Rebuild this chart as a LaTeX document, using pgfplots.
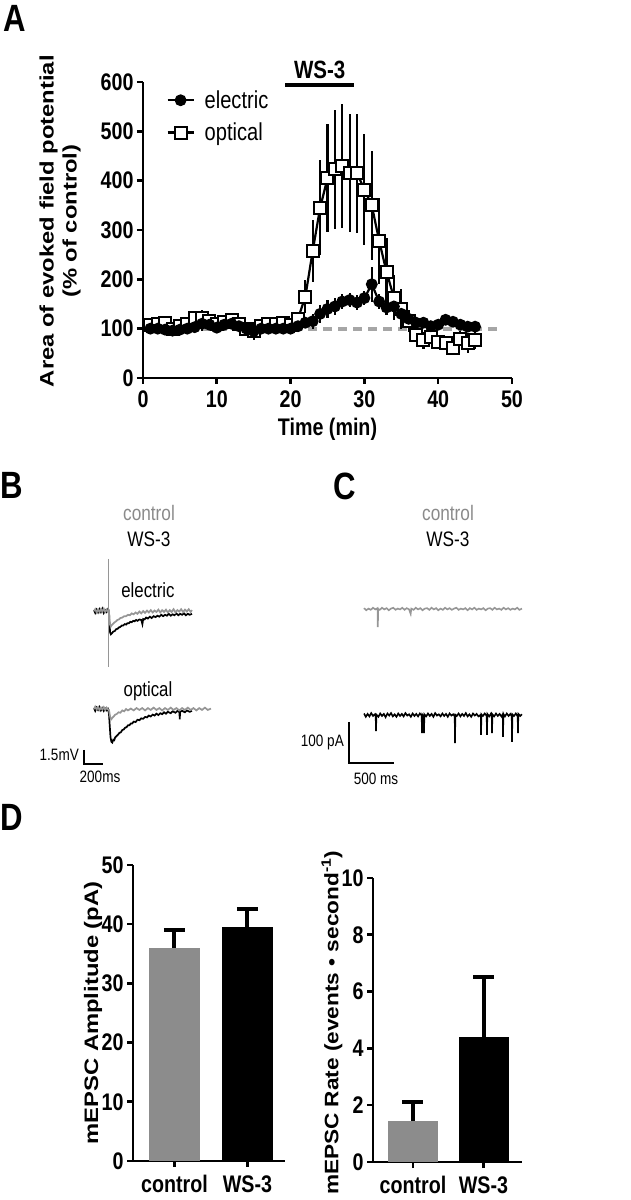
\documentclass[border=0pt]{standalone}
\usepackage{fontspec}
\setmainfont{Liberation Sans}
\newfontfamily\stretchfont[FakeStretch=1.22]{Liberation Sans}
\newfontfamily\stretchfontb[FakeStretch=1.16]{Liberation Sans}
\newfontfamily\hfont[FakeStretch=0.82]{Liberation Sans}
\usepackage{pgfplots}
\usepackage{pgfplotstable}
\pgfplotsset{compat=1.18}
\definecolor{bargray}{HTML}{8C8C8C}
\definecolor{tracegray}{HTML}{969696}
\definecolor{textgray}{HTML}{8A8A8A}
\definecolor{dashgray}{HTML}{A6A6A6}

\pgfplotstableread{
t v e
1 108 6
2 110 6
3 112 8
4 100 8
5 105 8
6 110 8
7 122 10
8 122 15
9 115 10
10 110 10
11 113 8
12 117 8
13 110 10
14 100 10
15 95 18
16 105 10
17 110 8
18 110 8
19 112 8
20 108 8
21 120 12
22 165 33
23 258 63
24 345 96
25 405 110
26 423 121
27 430 125
28 416 120
29 415 121
30 382 113
31 350 111
32 278 87
33 215 68
34 163 45
35 140 40
36 115 22
37 88 15
38 76 18
39 84 15
40 73 15
41 70 12
42 60 12
43 80 15
44 71 20
45 76 18
}\optical

\pgfplotstableread{
t v e
1 100 5
2 100 5
3 98 5
4 96 6
5 98 6
6 100 6
7 103 8
8 110 15
9 108 8
10 102 6
11 108 8
12 110 10
13 105 10
14 100 10
15 95 15
16 100 10
17 100 6
18 100 6
19 100 6
20 100 6
21 105 8
22 112 10
23 115 15
24 130 18
25 140 18
26 145 18
27 155 15
28 158 15
29 153 15
30 162 15
31 190 35
32 155 15
33 143 15
34 145 20
35 130 18
36 120 15
37 112 10
38 112 10
39 105 8
40 108 8
41 118 8
42 114 8
43 108 8
44 104 8
45 104 8
}\electric

\pgfplotsset{
  panel/.style={
    scale only axis, clip=false,
    axis lines*=left,
    axis line style={line width=2.6pt},
    tick style={line width=2.6pt, black},
    major tick length=6pt,
    tick align=outside,
    /pgf/number format/assume math mode=true,
    ticklabel style={font=\hfont\bfseries\fontsize{24}{24}\selectfont},
    xticklabel style={yshift=-5pt},
    xlabel style={font=\hfont\bfseries\fontsize{24}{24}\selectfont},
    ylabel style={font=\stretchfont\bfseries\fontsize{19.5}{23}\selectfont, align=center},
  },
  trace/.style={hide axis, scale only axis, clip=false},
  ebar/.style={error bars/.cd, y dir=plus, y explicit, error mark=|,
    error bar style={line width=4pt, draw=black, solid},
    error mark options={line width=4pt, mark size=10.5pt, draw=black}},
}

\begin{document}
\begin{tikzpicture}[x=1pt,y=1pt]
\useasboundingbox (0,0) rectangle (630,1200);
% panel letters
\node[font=\hfont\bfseries\fontsize{38}{38}\selectfont] at (15,1182) {A};
\node[font=\hfont\bfseries\fontsize{38}{38}\selectfont] at (12,715) {B};
\node[font=\hfont\bfseries\fontsize{38}{38}\selectfont] at (345,714) {C};
\node[font=\hfont\bfseries\fontsize{38}{38}\selectfont] at (12,383) {D};

% ---------------- Panel A ----------------
\begin{axis}[panel, at={(143pt,822pt)}, anchor=south west, width=369pt, height=296pt,
  xmin=0, xmax=50, ymin=0, ymax=600,
  xtick={0,10,20,30,40,50}, ytick={0,100,200,300,400,500,600},
  xticklabel style={yshift=2pt},
  xlabel={Time (min)}, ylabel={Area of evoked field potential\\(\% of control)},
  xlabel style={at={(axis description cs:0.5,-0.172)}, anchor=center},
  ylabel style={at={(axis description cs:-0.225,0.53)}, anchor=center},
  reverse legend, legend cell align=left,
  legend style={at={(0.055,0.985)}, anchor=north west, draw=none, fill=none,
    font=\hfont\fontsize{24.5}{24.5}\selectfont, row sep=9pt, column sep=8pt},
  legend image code/.code={\draw[mark repeat=2,mark phase=2] plot coordinates {(0pt,0pt) (13pt,0pt) (26pt,0pt)};}]
\addplot[forget plot, dashgray, line width=4pt, dash pattern=on 9pt off 6pt] coordinates {(0,100) (48,100)};
\addplot[black, line width=2.2pt, mark=square*, mark size=6pt, mark options={fill=white, line width=2pt, solid},
  error bars/.cd, y dir=both, y explicit, error mark=none, error bar style={line width=2.2pt, black}]
  table[x=t, y=v, y error=e] {\optical};
\addlegendentry{optical}
\addplot[black, line width=2.2pt, mark=*, mark size=4.8pt, mark options={fill=black, solid},
  error bars/.cd, y dir=both, y explicit, error mark=none, error bar style={line width=2.2pt, black}]
  table[x=t, y=v, y error=e] {\electric};
\addlegendentry{electric}
\draw[line width=3.5pt] (axis cs:19.3,594) -- (axis cs:28.6,594);
\node[font=\hfont\bfseries\fontsize{25}{25}\selectfont] at (axis cs:23.95,624) {WS-3};
\end{axis}

% ---------------- Panel B (traces) ----------------
\begin{axis}[trace, at={(50pt,410pt)}, anchor=south west, width=170pt, height=245pt,
  xmin=-621, xmax=1169, ymin=-19.08, ymax=7.18]
% electric, WS-3 (black)
\addplot[black, line width=1.7pt] coordinates {
(-158,0.2)(-145,-0.1)(-130,0.25)(-115,-0.05)(-100,0.3)(-85,0.0)(-70,0.35)(-55,-0.1)(-40,0.2)(-25,0.0)(-10,0.3)(0,0.1)
(5,-1.2)(12,-2.2)(20,-2.4)(30,-2.3)(45,-2.1)(60,-2.05)(75,-1.85)(90,-1.8)(105,-1.65)(120,-1.6)(135,-1.45)(150,-1.45)
(165,-1.3)(180,-1.35)(195,-1.2)(210,-1.2)(225,-1.05)(240,-1.1)(255,-0.95)(270,-1.0)(285,-0.85)(300,-0.95)(320,-0.8)
(340,-0.85)(352,-1.3)(360,-0.75)(375,-0.8)(390,-0.6)(410,-0.7)(430,-0.5)(450,-0.65)(470,-0.45)(490,-0.55)(510,-0.4)
(530,-0.5)(550,-0.3)(570,-0.45)(590,-0.3)(610,-0.4)(630,-0.2)(650,-0.4)(670,-0.25)(690,-0.35)(710,-0.15)(730,-0.35)
(750,-0.2)(770,-0.3)(790,-0.15)(810,-0.35)(830,-0.2)(850,-0.3)(874,-0.2)};
% electric, control (gray)
\addplot[tracegray, line width=1.7pt] coordinates {
(-158,0.1)(-145,0.3)(-130,-0.05)(-115,0.25)(-100,0.0)(-85,0.3)(-70,0.05)(-55,0.35)(-40,0.0)(-25,0.25)(-10,0.05)(0,0.1)
(5,-0.9)(12,-1.4)(20,-1.55)(30,-1.4)(45,-1.25)(60,-1.1)(75,-1.0)(90,-0.85)(105,-0.8)(120,-0.65)(140,-0.6)(160,-0.45)
(180,-0.45)(200,-0.3)(220,-0.35)(240,-0.15)(260,-0.25)(280,-0.05)(300,-0.2)(320,0.05)(340,-0.15)(360,0.1)(380,-0.1)
(400,0.15)(420,-0.05)(440,0.2)(460,-0.05)(480,0.15)(500,0.0)(520,0.25)(540,-0.05)(560,0.2)(580,0.0)(600,0.25)
(620,-0.05)(640,0.2)(660,0.0)(680,0.3)(700,-0.05)(720,0.2)(740,0.05)(760,0.3)(780,0.0)(800,0.25)(820,0.05)
(840,0.3)(860,0.0)(874,0.2)};
% stimulus artifact
\addplot[tracegray, line width=1pt] coordinates {(0,5.7)(0,-5.9)};
% optical, WS-3 (black)
\addplot[black, line width=1.7pt] coordinates {
(-158,-10.3)(-145,-10.6)(-130,-10.25)(-115,-10.5)(-100,-10.2)(-85,-10.55)(-70,-10.3)(-55,-10.6)(-40,-10.35)(-25,-10.55)
(-10,-10.4)(0,-10.9)(8,-12.2)(16,-13.4)(25,-13.9)(35,-14.0)(45,-13.7)(55,-13.75)(65,-13.45)(80,-13.3)(95,-13.15)
(110,-12.95)(125,-12.9)(140,-12.65)(155,-12.6)(170,-12.4)(185,-12.35)(200,-12.15)(215,-12.15)(230,-11.95)(245,-11.95)
(260,-11.75)(280,-11.8)(300,-11.55)(320,-11.6)(340,-11.4)(360,-11.45)(380,-11.25)(400,-11.3)(420,-11.1)(440,-11.2)
(460,-11.0)(480,-11.1)(500,-10.9)(520,-11.05)(540,-10.85)(560,-10.95)(580,-10.75)(600,-10.9)(620,-10.7)(650,-10.85)
(670,-10.65)(700,-10.8)(720,-10.6)(742,-10.75)(745,-11.5)(749,-10.7)(770,-10.6)(800,-10.75)(820,-10.55)(850,-10.7)(874,-10.6)};
% optical, control (gray)
\addplot[tracegray, line width=1.7pt] coordinates {
(-158,-10.4)(-145,-10.15)(-130,-10.45)(-115,-10.2)(-100,-10.5)(-85,-10.25)(-70,-10.45)(-55,-10.2)(-40,-10.5)(-25,-10.25)
(-10,-10.45)(0,-10.5)(8,-11.0)(16,-11.4)(25,-11.5)(35,-11.35)(50,-11.2)(65,-11.0)(80,-10.95)(100,-10.75)(120,-10.8)
(140,-10.55)(160,-10.65)(180,-10.4)(200,-10.55)(230,-10.35)(260,-10.55)(290,-10.3)(320,-10.5)(350,-10.3)(380,-10.55)
(410,-10.3)(440,-10.5)(470,-10.25)(500,-10.5)(530,-10.3)(560,-10.55)(590,-10.3)(620,-10.5)(650,-10.25)(680,-10.5)
(710,-10.3)(740,-10.55)(770,-10.3)(800,-10.5)(830,-10.25)(860,-10.5)(890,-10.3)(920,-10.55)(950,-10.3)(980,-10.5)
(1010,-10.25)(1040,-10.5)(1074,-10.35)};
% scale bar: 200 ms, 1.5 mV
\addplot[black, line width=2pt] coordinates {(-263,-14.79)(-263,-16.29)(-63,-16.29)};
\end{axis}

% ---------------- Panel C (traces) ----------------
\begin{axis}[trace, at={(300pt,410pt)}, anchor=south west, width=230pt, height=200pt,
  xmin=-710.4, xmax=1842.6, ymin=-441.64, ymax=46.36]
\addplot[tracegray, line width=1.6pt] coordinates {
(0,2)(25,-3)(50,1)(75,-2)(100,3)(125,-1)(150,2)(153,-44)(158,0)(175,-2)(200,3)(225,-1)(250,2)(275,-3)(300,1)(325,3)
(350,-2)(375,1)(400,-1)(425,3)(450,-2)(475,2)(500,-1)(518,-12)(525,1)(550,-2)(575,3)(600,-1)(625,2)(650,-3)(675,1)
(700,2)(725,-2)(750,3)(775,-1)(800,2)(825,-3)(850,1)(875,-2)(900,3)(925,-1)(950,2)(975,-2)(1000,1)(1025,3)(1050,-2)
(1075,1)(1100,-1)(1125,2)(1150,-3)(1175,2)(1200,-1)(1225,3)(1250,-2)(1275,1)(1300,-1)(1325,2)(1350,-3)(1375,1)
(1400,2)(1425,-2)(1450,3)(1475,-1)(1500,1)(1525,-2)(1550,3)(1575,-1)(1600,2)(1625,-2)(1650,1)(1675,-1)(1700,3)
(1725,-2)(1754,1)};
\addplot[black, line width=1.6pt] coordinates {
(0,-255)(20,-263)(40,-256)(60,-262)(80,-254)(100,-261)(120,-257)(130,-262)(133,-298)(138,-258)(160,-263)(180,-255)
(200,-261)(220,-256)(240,-264)(260,-255)(280,-260)(300,-254)(320,-262)(340,-257)(360,-263)(380,-255)(400,-261)
(420,-256)(440,-262)(460,-254)(480,-260)(500,-257)(520,-263)(540,-255)(560,-261)(580,-256)(600,-262)(620,-255)
(640,-260)(644,-303)(648,-258)(662,-262)(666,-303)(670,-257)(690,-262)(710,-255)(730,-261)(750,-256)(770,-263)
(790,-254)(810,-260)(830,-257)(850,-262)(870,-255)(890,-261)(910,-256)(930,-263)(950,-255)(970,-260)(990,-257)
(1007,-262)(1010,-327)(1014,-258)(1030,-261)(1050,-255)(1070,-262)(1090,-256)(1110,-261)(1130,-254)(1150,-262)
(1170,-257)(1190,-263)(1210,-255)(1230,-260)(1250,-256)(1270,-262)(1296,-258)(1299,-307)(1303,-257)(1320,-261)
(1340,-255)(1362,-261)(1365,-307)(1369,-256)(1390,-262)(1410,-255)(1418,-260)(1421,-303)(1425,-257)(1445,-262)
(1465,-255)(1485,-261)(1505,-256)(1525,-262)(1540,-257)(1543,-312)(1547,-256)(1565,-262)(1585,-255)(1605,-261)
(1625,-256)(1640,-262)(1643,-324)(1647,-257)(1665,-261)(1685,-255)(1706,-262)(1709,-303)(1713,-256)(1735,-261)(1754,-257)};
% scale bar: 500 ms, 100 pA
\addplot[black, line width=2pt] coordinates {(-166.5,-275.7)(-166.5,-375.8)(333.5,-375.8)};
\end{axis}

% trace annotations
\node[textgray, font=\hfont\fontsize{21}{21}\selectfont] at (149,687) {control};
\node[font=\hfont\fontsize{21}{21}\selectfont] at (149,661) {WS-3};
\node[font=\hfont\fontsize{20.5}{20.5}\selectfont] at (148,610) {electric};
\node[font=\hfont\fontsize{20.5}{20.5}\selectfont] at (148,509) {optical};
\node[font=\hfont\fontsize{16.5}{16.5}\selectfont, anchor=east, inner sep=1pt] at (80,445) {1.5mV};
\node[font=\hfont\fontsize{16.5}{16.5}\selectfont] at (100,423) {200ms};
\node[textgray, font=\hfont\fontsize{21}{21}\selectfont] at (448,687) {control};
\node[font=\hfont\fontsize{21}{21}\selectfont] at (448,661) {WS-3};
\node[font=\hfont\fontsize{16.5}{16.5}\selectfont, anchor=east, inner sep=1pt] at (345,458) {100 pA};
\node[font=\hfont\fontsize{16.5}{16.5}\selectfont] at (376,421) {500 ms};

% ---------------- Panel D left ----------------
\begin{axis}[panel, at={(133pt,39pt)}, anchor=south west, width=152pt, height=296pt,
  xmin=0.432, xmax=2.514, ymin=0, ymax=50, ytick={0,10,20,30,40,50},
  xtick={1,2}, xticklabels={control,WS-3},
  ylabel={mEPSC Amplitude (pA)},
  ylabel style={at={(axis description cs:-0.263,0.5)}, anchor=center}]
\addplot[ybar, bar width=51pt, bar shift=0pt, fill=bargray, draw=none, ebar]
  coordinates {(1,36) +- (0,3)};
\addplot[ybar, bar width=51pt, bar shift=0pt, fill=black, draw=none, ebar]
  coordinates {(2,39.5) +- (0,3)};
\end{axis}

% ---------------- Panel D right ----------------
\begin{axis}[panel, at={(373pt,38pt)}, anchor=south west, width=149pt, height=284pt,
  xmin=0.433, xmax=2.546, ymin=0, ymax=10, ytick={0,2,4,6,8,10},
  xtick={1,2}, xticklabels={control,WS-3},
  ylabel={mEPSC Rate (events \textbullet\ second\textsuperscript{-1})},
  ylabel style={font=\stretchfontb\bfseries\fontsize{19.5}{23}\selectfont, at={(axis description cs:-0.275,0.49)}, anchor=center}]
\addplot[ybar, bar width=50pt, bar shift=0pt, fill=bargray, draw=none, ebar]
  coordinates {(1,1.45) +- (0,0.65)};
\addplot[ybar, bar width=50pt, bar shift=0pt, fill=black, draw=none, ebar]
  coordinates {(2,4.4) +- (0,2.1)};
\end{axis}
\end{tikzpicture}
\end{document}
